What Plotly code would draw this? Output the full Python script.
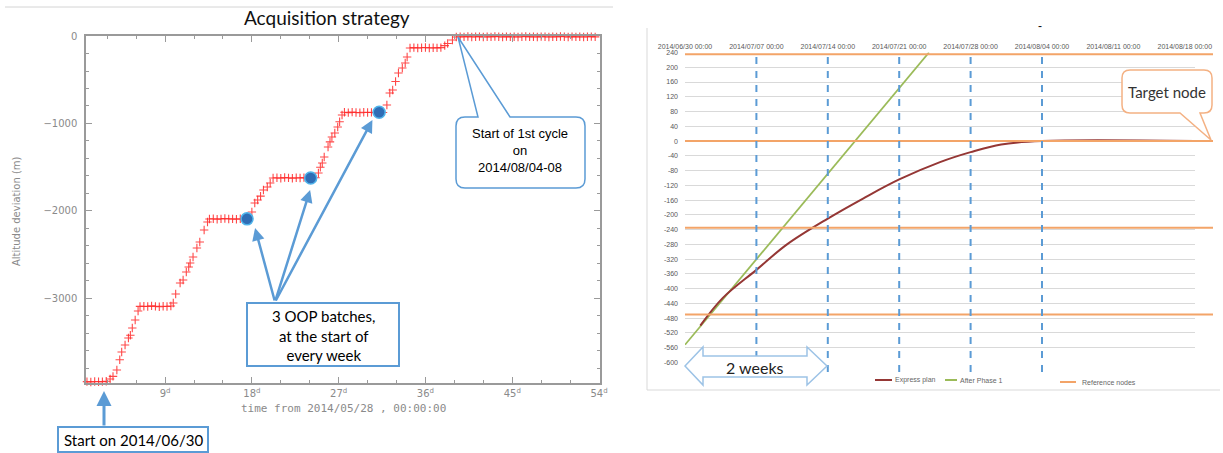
import plotly.graph_objects as go

W, H = 1223, 453

# ---------------- Left panel data (days from 2014/05/28, altitude deviation m) ----------------
acq_days = [0.9, 1.3, 1.7, 2.1, 2.5, 2.9,
            3.3, 3.6, 4.0, 4.3, 4.5, 4.85, 5.2, 5.4, 5.6, 5.9, 6.2, 6.4,
            6.8, 7.2, 7.6, 8.0, 8.4, 8.8, 9.2, 9.6,
            9.85, 10.1, 10.56, 10.87, 11.2, 11.45, 11.6, 11.9, 12.3, 12.6, 13.05, 13.4, 13.6,
            14.0, 14.4, 14.8, 15.2, 15.6, 16.0, 16.4, 16.8, 17.2, 17.6,
            18.0, 18.3, 18.6, 18.9, 19.2, 19.6, 19.9, 20.2,
            20.6, 21.0, 21.4, 21.8, 22.2, 22.6, 23.0, 23.4, 23.8, 24.2, 24.6,
            24.9, 25.1, 25.3, 25.5, 25.9, 26.1, 26.3, 26.6, 26.9, 27.1, 27.35,
            27.6, 28.0, 28.4, 28.8, 29.2, 29.6, 30.0, 30.4, 30.8, 31.2, 31.6,
            32.0, 32.3, 32.6, 32.9, 33.2, 33.6, 33.9, 34.1, 34.4,
            34.8, 35.2, 35.6, 36.0, 36.4, 36.8, 37.2, 37.6,
            38.0, 38.3, 38.8, 39.2,
            39.6, 40.0, 40.4, 40.8, 41.2, 41.6, 42.0, 42.4, 42.8, 43.2, 43.6, 44.0,
            44.4, 44.8, 45.2, 45.6, 46.0, 46.4, 46.8, 47.2, 47.6, 48.0, 48.4, 48.8,
            49.2, 49.6, 50.0, 50.4, 50.8, 51.2, 51.6, 52.0, 52.4, 52.8, 53.2, 53.6]
acq_alt = [-3950, -3955, -3948, -3952, -3950, -3946,
           -3920, -3890, -3817, -3700, -3611, -3531, -3451, -3420, -3337, -3246, -3143, -3090,
           -3088, -3092, -3085, -3090, -3094, -3088, -3092, -3086,
           -3051, -2949, -2823, -2789, -2697, -2640, -2594, -2526, -2423, -2354, -2217, -2126, -2092,
           -2088, -2094, -2090, -2086, -2092, -2090, -2095, -2088, -2091, -2090,
           -2011, -1909, -1874, -1830, -1760, -1726, -1680, -1623,
           -1620, -1625, -1618, -1622, -1626, -1620, -1623, -1619, -1625, -1622, -1620,
           -1566, -1500, -1451, -1383, -1269, -1210, -1154, -1109, -1040, -980, -903,
           -872, -876, -870, -874, -878, -871, -875, -873, -877, -870, -874,
           -789, -651, -617, -520, -423, -366, -309, -240, -137,
           -133, -138, -135, -132, -137, -134, -136, -133,
           -110, -85, -46, -12,
           -8, -10, -6, -11, -9, -7, -12, -8, -10, -6, -9, -11,
           -7, -10, -8, -12, -9, -6, -10, -8, -11, -7, -9, -12,
           -8, -10, -6, -9, -11, -7, -10, -8, -12, -9, -7, -10]
oop_days = [17.5, 24.1, 31.2]
oop_alt = [-2090, -1623, -872]
left_xticks = [9, 18, 27, 36, 45, 54]
left_xtext = ["9<sup>d</sup>", "18<sup>d</sup>", "27<sup>d</sup>", "36<sup>d</sup>", "45<sup>d</sup>", "54<sup>d</sup>"]
left_yticks = [0, -1000, -2000, -3000]
left_ytext = ["0", "\u22121000", "\u22122000", "\u22123000"]

# ---------------- Right panel data ----------------
express_dates = ["2014-07-01 12:00", "2014-07-03 17:00", "2014-07-07", "2014-07-10", "2014-07-14",
                 "2014-07-17 12:00", "2014-07-21", "2014-07-25", "2014-07-28", "2014-07-31",
                 "2014-08-04", "2014-08-19"]
express_vals = [-500, -425, -349, -280, -210, -155, -104, -57, -30, -9, 0, 0]
phase1_dates = ["2014-06-30", "2014-07-23 22:00"]
phase1_vals = [-552, 240]
ref_nodes = [235, 0, -235, -470]
week_lines = ["2014-07-07", "2014-07-14", "2014-07-21", "2014-07-28", "2014-08-04"]
right_yticks = [240, 200, 160, 120, 80, 40, 0, -40, -80, -120, -160, -200, -240, -280,
                -320, -360, -400, -440, -480, -520, -560, -600]
right_ytext = [str(v) for v in right_yticks]


def px(x):
    return x / W


def py(y):
    return 1 - y / H


def P(x, y):
    return f"{x / W:.5f},{1 - y / H:.5f}"


fig = go.Figure()

fig.add_trace(go.Scatter(x=acq_days, y=acq_alt, mode="markers", xaxis="x", yaxis="y",
                         cliponaxis=False, showlegend=False,
                         marker=dict(symbol="cross-thin", size=6,
                                     line=dict(color="rgba(255,40,40,0.85)", width=1.1))))
fig.add_trace(go.Scatter(x=oop_days, y=oop_alt, mode="markers", xaxis="x", yaxis="y",
                         cliponaxis=False, showlegend=False,
                         marker=dict(size=12, color="#2f6db5",
                                     line=dict(color="#4fb3ea", width=1.5))))
fig.add_trace(go.Scatter(x=phase1_dates, y=phase1_vals, mode="lines", xaxis="x2", yaxis="y2",
                         showlegend=False, line=dict(color="#9bbb59", width=1.8)))
fig.add_trace(go.Scatter(x=express_dates, y=express_vals, mode="lines", xaxis="x2", yaxis="y2",
                         showlegend=False, line=dict(color="#953735", width=2, shape="spline")))

axcol = "#9a9a9a"
lfont = dict(family="DejaVu Sans", size=10, color="#8a8a8a")

shapes = []
# slide top line
shapes.append(dict(type="line", xref="paper", yref="paper", x0=px(5), x1=px(613), y0=py(7), y1=py(7),
                   line=dict(color="#d4d4d4", width=1)))
# right panel frame
shapes.append(dict(type="line", xref="paper", yref="paper", x0=px(647), x1=px(647), y0=py(28), y1=py(390),
                   line=dict(color="#d9d9d9", width=1)))
shapes.append(dict(type="line", xref="paper", yref="paper", x0=px(647), x1=px(1220), y0=py(390), y1=py(390),
                   line=dict(color="#d9d9d9", width=1)))
# reference node lines
for v in ref_nodes:
    shapes.append(dict(type="line", xref="paper", yref="y2", x0=px(685), x1=px(1213), y0=v, y1=v,
                       line=dict(color="#f3a468", width=2)))
# weekly dashed lines
for d in week_lines:
    shapes.append(dict(type="line", xref="x2", yref="paper", x0=d, x1=d, y0=py(372), y1=py(52),
                       line=dict(color="#5b9bd5", width=2, dash="7px,7px")))
# OOP box
shapes.append(dict(type="rect", xref="paper", yref="paper", x0=px(247), x1=px(399), y0=py(366), y1=py(303),
                   fillcolor="white", line=dict(color="#5b9bd5", width=2), layer="above"))
# Start box
shapes.append(dict(type="rect", xref="paper", yref="paper", x0=px(58), x1=px(208), y0=py(452), y1=py(427),
                   fillcolor="white", line=dict(color="#5b9bd5", width=2), layer="above"))
# callout: start of 1st cycle
r = 9
x0, x1, y0, y1 = 456, 585, 117, 188
path1 = (f"M {P(x0 + r, y0)} L {P(478, y0)} L {P(458, 37)} L {P(510, y0)} L {P(x1 - r, y0)} "
         f"Q {P(x1, y0)} {P(x1, y0 + r)} L {P(x1, y1 - r)} Q {P(x1, y1)} {P(x1 - r, y1)} "
         f"L {P(x0 + r, y1)} Q {P(x0, y1)} {P(x0, y1 - r)} L {P(x0, y0 + r)} Q {P(x0, y0)} {P(x0 + r, y0)} Z")
shapes.append(dict(type="path", xref="paper", yref="paper", path=path1, fillcolor="white",
                   line=dict(color="#5b9bd5", width=1.5), layer="above"))
# callout: target node
r = 8
x0, x1, y0, y1 = 1122, 1212, 70, 113
path2 = (f"M {P(x0 + r, y0)} L {P(x1 - r, y0)} Q {P(x1, y0)} {P(x1, y0 + r)} L {P(x1, y1 - r)} "
         f"Q {P(x1, y1)} {P(x1 - r, y1)} L {P(1200, y1)} L {P(1211, 140)} L {P(1180, y1)} "
         f"L {P(x0 + r, y1)} Q {P(x0, y1)} {P(x0, y1 - r)} L {P(x0, y0 + r)} Q {P(x0, y0)} {P(x0 + r, y0)} Z")
shapes.append(dict(type="path", xref="paper", yref="paper", path=path2, fillcolor="white",
                   line=dict(color="#f4b183", width=1.5), layer="above"))
# 2 weeks double arrow
path3 = (f"M {P(685, 366)} L {P(703, 347)} L {P(703, 356)} L {P(807, 356)} L {P(807, 347)} "
         f"L {P(827, 366)} L {P(807, 385)} L {P(807, 377)} L {P(703, 377)} L {P(703, 385)} Z")
shapes.append(dict(type="path", xref="paper", yref="paper", path=path3, fillcolor="white",
                   line=dict(color="#9dc3e6", width=1.5), layer="above"))
# legend samples
shapes.append(dict(type="line", xref="paper", yref="paper", x0=px(875), x1=px(892), y0=py(380), y1=py(380),
                   line=dict(color="#953735", width=2)))
shapes.append(dict(type="line", xref="paper", yref="paper", x0=px(945), x1=px(957), y0=py(380), y1=py(380),
                   line=dict(color="#9bbb59", width=2)))
shapes.append(dict(type="line", xref="paper", yref="paper", x0=px(1060), x1=px(1076), y0=py(382), y1=py(382),
                   line=dict(color="#f3a468", width=2)))

ann = []


def txt(x, y, text, size, family="Lato", color="black", xanchor="center", yanchor="middle", **kw):
    ann.append(dict(xref="paper", yref="paper", x=px(x), y=py(y), text=text, showarrow=False,
                    xanchor=xanchor, yanchor=yanchor,
                    font=dict(family=family, size=size, color=color), **kw))


txt(327, 18, "Acquisition strategy", 19, color="#111")
txt(17, 211, "Altitude deviation (m)", 10, family="DejaVu Sans", color="#8a8a8a", textangle=-90)
txt(343, 408, "time from 2014/05/28 , 00:00:00", 11, family="DejaVu Sans Mono", color="#8a8a8a")
txt(323, 335, "3 OOP batches,<br>at the start of<br>every week", 15)
txt(133, 440, "Start on 2014/06/30", 15)
txt(520, 151, "Start of 1st cycle<br>on<br>2014/08/04-08", 13, family="Liberation Sans")
txt(1167, 92, "Target node", 15, color="#333")
txt(755, 367, "2 weeks", 16, color="#222")
txt(893, 380, "Express plan", 7, family="Liberation Sans", color="#666", xanchor="left")
txt(958, 380, "After Phase 1", 7, family="Liberation Sans", color="#666", xanchor="left")
txt(1080, 382, "Reference nodes", 7, family="Liberation Sans", color="#666", xanchor="left")
txt(1040, 26, "-", 12, family="Liberation Sans", color="#111")

# arrows to OOP batches
tails = (20.4, -3040)
for tx, ty in [(18.33, -2194), (24.04, -1760), (30.5, -960)]:
    ann.append(dict(xref="x", yref="y", x=tx, y=ty, axref="x", ayref="y", ax=tails[0], ay=tails[1],
                    text="", showarrow=True, arrowhead=2, arrowsize=1, arrowwidth=2.5,
                    arrowcolor="#5b9bd5", standoff=0, startstandoff=0))
# start arrow
ann.append(dict(xref="paper", yref="paper", x=px(104), y=py(391), ax=0, ay=36, text="",
                showarrow=True, arrowhead=2, arrowsize=1, arrowwidth=3, arrowcolor="#5b9bd5"))

fig.update_layout(
    width=W, height=H, margin=dict(l=0, r=0, t=0, b=0, autoexpand=False),
    paper_bgcolor="white", plot_bgcolor="white",
    shapes=shapes, annotations=ann,
    xaxis=dict(domain=[px(86), px(600)], range=[0.8, 54.1], anchor="y", automargin=False,
               tickvals=left_xticks, ticktext=left_xtext, tickfont=lfont,
               ticks="inside", ticklen=6, tickcolor=axcol, tickwidth=1,
               showline=True, linecolor=axcol, linewidth=1.5, mirror="ticks",
               minor=dict(dtick=3, tick0=0, ticks="inside", ticklen=3, tickcolor=axcol),
               showgrid=False, zeroline=False),
    yaxis=dict(domain=[py(383), py(36)], range=[-3966, 0], anchor="x", automargin=False,
               tickvals=left_yticks, ticktext=left_ytext, tickfont=lfont,
               ticks="inside", ticklen=6, tickcolor=axcol, tickwidth=1, ticklabelstandoff=5,
               showline=True, linecolor=axcol, linewidth=1.5, mirror="ticks",
               minor=dict(dtick=200, tick0=0, ticks="inside", ticklen=3, tickcolor=axcol),
               showgrid=False, zeroline=False),
    xaxis2=dict(domain=[px(685), px(1195)], type="date", range=["2014-06-30", "2014-08-19"],
                anchor="y2", side="top", tick0="2014-06-30", dtick=7 * 86400000, automargin=False,
                tickformat="%Y/%m/%d %H:%M", ticks="", showgrid=False, showline=False, zeroline=False,
                ticklabelstandoff=1,
                tickfont=dict(family="Liberation Sans", size=7, color="#595959")),
    yaxis2=dict(domain=[py(362.5), py(52.5)], range=[-600, 240], anchor="x2", automargin=False,
                tickvals=right_yticks, ticktext=right_ytext, ticks="", ticklabelstandoff=6,
                showgrid=True, gridcolor="#d9d9d9", gridwidth=1, zeroline=False, showline=False,
                tickfont=dict(family="Liberation Sans", size=7, color="#595959")),
)

fig.write_html("out.html", config={"displayModeBar": False},
               post_script="document.body.style.margin='0';document.body.style.overflow='hidden';")
